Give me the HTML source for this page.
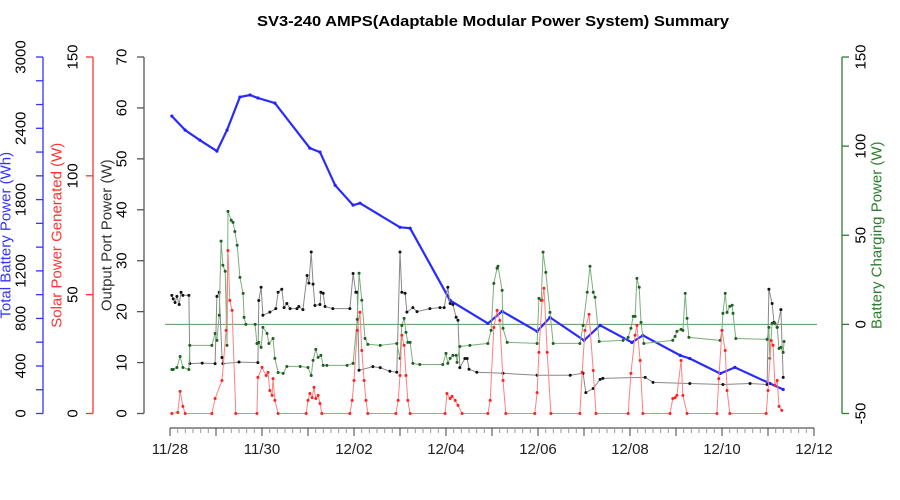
<!DOCTYPE html>
<html><head><meta charset="utf-8"><style>
html,body{margin:0;padding:0;background:#fff;}
svg{display:block;font-family:"Liberation Sans",sans-serif;}
</style></head><body>
<svg id="chart" width="900" height="500" viewBox="0 0 900 500" xmlns="http://www.w3.org/2000/svg">
<text x="493" y="26" text-anchor="middle" font-size="15" font-weight="bold" textLength="472" lengthAdjust="spacingAndGlyphs">SV3-240 AMPS(Adaptable Modular Power System) Summary</text>
<g id="axes"></g>
<g id="marks"></g>
</svg>
<script>
// x: days since 11/28 00:00
const xTickLabels = ["11/28","11/30","12/02","12/04","12/06","12/08","12/10","12/12"];
const batteryTicks = [0,400,800,1200,1800,2400,3000];
const solarTicks = [0,50,100,150];
const outputTicks = [0,10,20,30,40,50,60,70];
const chargeTicks = [-50,0,50,100,150];

const battery = [[.04,2503],[.33,2385],[.65,2300],[1.02,2208],[1.24,2385],[1.52,2663],[1.74,2680],[1.91,2655],[2.28,2612],[3.04,2233],[3.26,2200],[3.59,1921],[3.98,1753],[4.13,1770],[5.0,1567],[5.22,1559],[6.09,952],[6.91,758],[7.22,860],[7.98,691],[8.26,809],[9.0,615],[9.35,742],[10.04,598],[10.28,657],[11.09,489],[11.3,463],[11.96,337],[12.28,388],[13.04,253],[13.33,202]];

const solar = [[.04,0],[.17,0.4],[.22,9.3],[.28,3],[.33,0],[.91,0],[.98,6.3],[1.13,13.9],[1.22,35],[1.26,68.6],[1.30,47.6],[1.35,43.4],[1.43,0],[1.89,0],[1.91,15.2],[2.0,19.4],[2.09,16],[2.13,17.3],[2.17,9.7],[2.22,7.6],[2.24,14.7],[2.28,5.5],[2.35,0],[2.96,0],[3.0,5.5],[3.04,8.4],[3.09,6.7],[3.13,11],[3.17,6.3],[3.22,7.6],[3.26,4.2],[3.30,0],[3.91,0],[3.96,5.5],[4.0,13.9],[4.07,35],[4.13,42.6],[4.17,26.5],[4.22,13.9],[4.26,5.5],[4.30,0],[4.91,0],[4.96,5.5],[5.0,16],[5.04,32.9],[5.09,28.7],[5.13,16],[5.17,5.5],[5.22,0],[5.98,0],[6.02,8.4],[6.09,6.3],[6.13,7.2],[6.2,5.5],[6.26,3.4],[6.35,0],[6.91,0],[6.96,5.5],[7.04,36.2],[7.11,43.4],[7.17,39.2],[7.24,13.9],[7.30,0],[7.93,0],[7.98,8.8],[8.02,25.7],[8.09,47.6],[8.13,52.7],[8.2,25.7],[8.28,0],[8.91,0],[8.96,17.3],[9.02,35],[9.11,41.7],[9.2,18.1],[9.26,0],[9.96,0],[10.02,16.9],[10.11,32.9],[10.15,37.1],[10.22,22.3],[10.28,0],[10.87,0],[10.93,6.3],[10.98,6.7],[11.02,7.6],[11.11,22.3],[11.15,7.6],[11.24,0],[11.89,0],[11.93,14.7],[12.0,35],[12.07,26.5],[12.11,9.7],[12.17,0],[12.96,0],[13.0,9.7],[13.07,30.7],[13.11,28.7],[13.15,11.8],[13.2,13.9],[13.24,3],[13.3,1.3]];

const output = [[.04,23.2],[.07,22.5],[.11,21.8],[.15,23],[.2,21.4],[.24,23.8],[.28,23.2],[.41,23.2],[.43,9.8],[.7,9.9],[.98,9.8],[1.02,23],[1.07,23.8],[1.13,11],[1.15,9.8],[1.5,10.1],[1.91,10],[1.93,22.2],[1.98,24.8],[2.02,19.3],[2.17,19.9],[2.3,20.6],[2.35,23.8],[2.43,24.4],[2.48,20.8],[2.54,21.6],[2.61,20.6],[2.76,20.6],[2.8,21],[2.89,20.4],[2.98,27.1],[3.02,25.6],[3.07,31.7],[3.11,25.4],[3.15,21.2],[3.26,21.4],[3.28,23.8],[3.33,23.6],[3.37,21],[3.54,20.6],[3.91,20.6],[3.98,27.5],[4.04,23.8],[4.07,23.8],[4.11,8.5],[4.41,9.2],[4.57,9],[4.78,8.3],[4.93,8.1],[5.0,31.7],[5.04,23.8],[5.11,23.6],[5.15,19.9],[5.28,20.8],[5.37,20],[5.65,20.6],[5.87,20.8],[5.96,20.8],[6.04,24.8],[6.09,21.6],[6.15,21.4],[6.22,18.9],[6.26,18.3],[6.3,9],[6.41,10.8],[6.46,10.8],[6.5,8.7],[6.67,8.1],[7.24,7.9],[7.98,7.5],[8.7,7.5],[8.98,7.9],[9.04,4.1],[9.2,4.9],[9.35,6.7],[9.41,6.9],[10.33,7.1],[10.5,6.1],[11.3,5.9],[12.02,5.7],[12.61,5.9],[12.98,5.7],[13.02,24.4],[13.09,21.6],[13.13,17.9],[13.2,16.9],[13.28,20.4],[13.33,7.1]];

const charge = [[.04,-25.3],[.07,-25.3],[.15,-24.2],[.22,-18],[.28,-24.2],[.41,-25.3],[.43,-11.8],[.91,-11.8],[.98,-5.1],[1.02,-9],[1.07,5.1],[1.11,46.7],[1.15,33.2],[1.2,29.8],[1.24,-11.8],[1.26,63.4],[1.33,58.4],[1.37,57.2],[1.41,52.1],[1.46,44.4],[1.52,26.4],[1.59,17.4],[1.61,3.9],[1.65,0],[1.85,0],[1.89,-10.7],[1.93,-10.1],[1.98,-12.9],[2.02,-1.7],[2.11,-5.1],[2.15,-10.7],[2.24,-7.9],[2.28,-19.1],[2.35,-27],[2.46,-27.5],[2.54,-23.6],[2.83,-23.6],[3.0,-24.2],[3.07,-28.7],[3.11,-20.2],[3.17,-14],[3.22,-18.5],[3.28,-17.4],[3.33,-23],[3.41,-23],[3.85,-23],[3.98,-21.9],[4.07,2.8],[4.11,28.7],[4.17,13.5],[4.24,-7.9],[4.3,-11.2],[4.57,-11.8],[4.93,-10.7],[5.0,-19.1],[5.04,-0.6],[5.09,3.4],[5.13,-4.5],[5.17,-10.1],[5.22,-10.1],[5.28,-21.9],[5.43,-22.5],[5.93,-22.5],[6.0,-16.3],[6.04,-21.9],[6.09,-19.1],[6.15,-17.4],[6.22,-17.4],[6.24,-21.3],[6.3,-12.4],[6.52,-11.8],[6.91,-10.7],[6.98,-3.4],[7.04,23],[7.11,31.5],[7.13,32.6],[7.22,19.1],[7.24,-2.2],[7.33,-10.1],[7.98,-10.7],[8.02,14.6],[8.07,13.5],[8.11,40.5],[8.17,29.2],[8.26,6.7],[8.33,-10.7],[8.91,-10.7],[8.98,-0.6],[9.07,18],[9.13,32.6],[9.2,18],[9.24,15.2],[9.33,-9.6],[9.85,-9],[9.96,-7.3],[10.02,-2.2],[10.07,4.5],[10.11,4.5],[10.15,25.8],[10.2,20.8],[10.24,1.1],[10.3,-10.7],[10.93,-9],[10.98,-6.7],[11.02,-3.9],[11.11,-2.8],[11.15,-3.4],[11.2,17.4],[11.24,3.4],[11.28,-7.3],[11.96,-9],[12.0,-3.4],[12.02,6.2],[12.07,17.4],[12.11,6.7],[12.17,10.1],[12.22,10.7],[12.24,6.2],[12.3,-7.9],[12.98,-8.4],[13.02,-1.7],[13.04,-19.1],[13.09,0.6],[13.15,0.6],[13.2,-1.7],[13.24,-13.5],[13.28,-12.9],[13.33,-15.7],[13.35,-9.6]];

const NS="http://www.w3.org/2000/svg";
const Y0=413.5, YT=57;
const xS=d=>170+46*d;
const lin=(lo,hi)=>v=>Y0-(v-lo)/(hi-lo)*(Y0-YT);
const yBat=lin(0,3000), ySol=lin(0,150), yOut=lin(0,70), yChg=lin(-50,150);
const axes=document.getElementById('axes'), marks=document.getElementById('marks');
function mk(tag,attrs,parent){const e=document.createElementNS(NS,tag);for(const k in attrs)e.setAttribute(k,attrs[k]);parent.appendChild(e);return e;}

function yAxis(name,x,scale,ticks,minorStep,lo,hi,color,title,titleX,labelX,side){
  const g=mk('g',{},axes);
  
  
  mk('line',{x1:x,y1:scale(lo),x2:x,y2:scale(hi),stroke:color,'stroke-width':1.3},g);
  const dir=side==='left'?-7:7;
  for(let v=lo;v<=hi+1e-9;v+=minorStep){
    mk('line',{x1:x,y1:scale(v),x2:x+dir,y2:scale(v),stroke:color,'stroke-width':1.3},g);
  }
  ticks.forEach(v=>{
    const t=mk('text',{x:labelX,y:scale(v),'font-size':15,'text-anchor':'middle',fill:'#000',transform:`rotate(-90 ${labelX} ${scale(v)})`,'dominant-baseline':'central'},g);
    
    
    t.textContent=v;
  });
  const tt=mk('text',{x:titleX,y:(Y0+YT)/2,'font-size':15,'text-anchor':'middle',fill:color==='#555'?'#333':color,transform:`rotate(-90 ${titleX} ${(Y0+YT)/2})`,'dominant-baseline':'central'},g);
  
  
  tt.textContent=title;
}
yAxis('battery-axis',43,yBat,batteryTicks,200,0,3000,'#3333ff','Total Battery Power (Wh)',6,21,'left');
yAxis('solar-axis',93,ySol,solarTicks,50,0,150,'#ff3333','Solar Power Generated (W)',57,73,'left');
yAxis('output-axis',144,yOut,outputTicks,10,0,70,'#555','Output Port Power (W)',107,122,'left');
yAxis('charge-axis',842,yChg,chargeTicks,50,-50,150,'#2e7d2e','Battery Charging Power (W)',877,861,'right');

// x axis
const xg=mk('g',{},axes);


mk('line',{x1:xS(0),y1:428,x2:xS(14),y2:428,stroke:'#555','stroke-width':1.2},xg);
for(let h=0;h<=14*24;h+=4){
  const major=h%24===0;
  mk('line',{x1:xS(h/24),y1:428,x2:xS(h/24),y2:major?436:433,stroke:major?'#444':'#999','stroke-width':1},xg);
}
xTickLabels.forEach((lab,i)=>{
  const t=mk('text',{x:xS(i*2),y:454,'font-size':15,'text-anchor':'middle',fill:'#222'},xg);
  
  
  t.textContent=lab;
});

// zero line for charging
const zl=mk('line',{x1:165,y1:yChg(0),x2:817,y2:yChg(0),stroke:'#5c9a5c','stroke-width':1},axes);



function series(name,data,ys,lineColor,ptColor,lw,r){
  const g=mk('g',{},marks);
  
  
  const pts=data.map(p=>xS(p[0]).toFixed(1)+','+ys(p[1]).toFixed(1)).join(' ');
  mk('polyline',{points:pts,fill:'none',stroke:lineColor,'stroke-width':lw},g);
  data.forEach(p=>{
    const c=mk('circle',{cx:xS(p[0]),cy:ys(p[1]),r:r,fill:ptColor},g);
    
    
  });
}
series('battery-series',battery,yBat,'#2a2aff','#2222ff',2.2,1.6);
series('output-series',output,yOut,'#888','#111',1,1.5);
series('charge-series',charge,yChg,'#7ab07a','#1f5f1f',1,1.5);
series('solar-series',solar,ySol,'#ff8080','#ff2020',1,1.5);
</script>
</body></html>
